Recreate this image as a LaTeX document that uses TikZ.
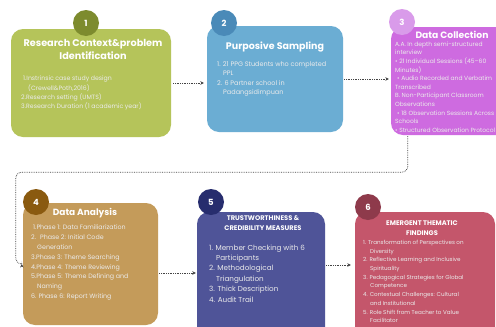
\documentclass[tikz,border=0pt]{standalone}
\usepackage{fontspec}
\setmainfont{Poppins}
\usetikzlibrary{arrows.meta}
\definecolor{boxA}{HTML}{B5C45A}\definecolor{numA}{HTML}{7D8B2E}
\definecolor{boxB}{HTML}{6BADD3}\definecolor{numB}{HTML}{4A8AB8}
\definecolor{boxC}{HTML}{CE6BE0}\definecolor{numC}{HTML}{D99BEA}
\definecolor{boxD}{HTML}{C49B5A}\definecolor{numD}{HTML}{8A5A10}
\definecolor{boxE}{HTML}{4F5498}\definecolor{numE}{HTML}{272D6E}
\definecolor{boxF}{HTML}{C4566B}\definecolor{numF}{HTML}{8E3A4B}
\definecolor{connc}{HTML}{444444}
\tikzset{
  panel/.style={rounded corners=12pt, inner sep=0pt, draw=none},
  numc/.style={circle, minimum size=26pt, inner sep=0pt, text=white, font=\bfseries\fontsize{8.5}{8.5}\selectfont},
  ttl/.style={text=white, align=center, inner sep=0pt},
  lst/.style={anchor=north west, align=left, inner sep=0pt, text=white!92!black},
  conn/.style={densely dotted, line width=0.75pt, draw=connc, -{Stealth[length=3.5pt,width=3.5pt]}, rounded corners=6pt}
}
\begin{document}
\begin{tikzpicture}[x=1pt,y=-1pt]
\useasboundingbox (0,0) rectangle (496,327);
\fill[white] (0,0) rectangle (496,327);
% boxes
\node[panel, fill=boxA, minimum width=160pt, minimum height=108pt] (b1) at (91,83) {};
\node[panel, fill=boxB, minimum width=136pt, minimum height=106pt] (b2) at (275,79) {};
\node[panel, fill=boxC, minimum width=130pt, minimum height=108pt] (b3) at (456,81) {};
\node[panel, fill=boxD, minimum width=135pt, minimum height=122pt] (b4) at (90.5,264) {};
\node[panel, fill=boxE, minimum width=128pt, minimum height=128pt] (b5) at (261,276) {};
\node[panel, fill=boxF, minimum width=140pt, minimum height=128pt] (b6) at (425,276) {};
% number circles
\node[numc, fill=numA] (n1) at (86,23) {1};
\node[numc, fill=numB] (n2) at (224,23) {2};
\node[numc, fill=numC] (n3) at (402,22) {3};
\node[numc, fill=numD] (n4) at (36,202) {4};
\node[numc, fill=numE] (n5) at (211,202) {5};
\node[numc, fill=numF] (n6) at (368,207) {6};
% titles
\node[ttl, font=\bfseries\fontsize{9.7}{13}\selectfont] (t1) at (93,49.5) {Research Context\&problem\\Identification};
\node[ttl, font=\bfseries\fontsize{9.5}{12}\selectfont] (t2) at (275,47) {Purposive Sampling};
\node[ttl, font=\bfseries\fontsize{9.2}{12}\selectfont] (t3) at (452,35) {Data Collection};
\node[ttl, font=\bfseries\fontsize{9}{12}\selectfont] (t4) at (85,213) {Data Analysis};
\node[ttl, font=\bfseries\fontsize{6.7}{10}\selectfont] (t5) at (263,223) {TRUSTWORTHINESS \&\\CREDIBILITY MEASURES};
\node[ttl, font=\bfseries\fontsize{6.7}{10}\selectfont] (t6) at (422,228) {EMERGENT THEMATIC\\FINDINGS};
% lists
\node[lst, font=\fontsize{6.2}{9.3}\selectfont] (l1) at (21,76) {\hspace{2pt}1.Instrinsic case study design\\\hspace{7pt}(Crewell\&Poth,2016)\\2.Research setting (UMTS)\\3.Research Duration (1 academic year)};
\node[lst, font=\fontsize{6.5}{9.6}\selectfont] (l2) at (217,61) {1. 21 PPG Students who completed\\\hspace{6pt}PPL\\2. 6 Partner school in\\\hspace{6pt}Padangsidimpuan};
\node[lst, font=\fontsize{6}{8.6}\selectfont] (l3) at (395,41.5) {A.A. In depth semi-structured\\interview\\• 21 Individual Sessions (45–60\\Minutes)\\\hspace{2pt}• Audio Recorded and Verbatim\\Transcribed\\B. Non-Participant Classroom\\Observations\\\hspace{2pt}• 18 Observation Sessions Across\\Schools\\• Structured Observation Protocol};
\node[lst, font=\fontsize{6.3}{9.8}\selectfont] (l4) at (31,225) {\hspace{2pt}1.Phase 1: Data Familiarization\\2.\hspace{4pt}Phase 2: Initial Code\\\hspace{6pt}Generation\\3.Phase 3: Theme Searching\\4.Phase 4: Theme Reviewing\\5.Phase 5: Theme Defining and\\\hspace{6pt}Naming\\6.\hspace{2pt}Phase 6: Report Writing};
\node[lst, font=\fontsize{7.2}{10.4}\selectfont] (l5) at (209,244.5) {1. Member Checking with 6\\\hspace{7pt}Participants\\2. Methodological\\\hspace{7pt}Triangulation\\3. Thick Description\\4. Audit Trail};
\node[lst, font=\fontsize{5.6}{8.7}\selectfont] (l6) at (363,240) {1. Transformation of Perspectives on\\\hspace{7pt}Diversity\\2. Reflective Learning and Inclusive\\\hspace{7pt}Spirituality\\3. Pedagogical Strategies for Global\\\hspace{7pt}Competence\\4. Contextual Challenges: Cultural\\\hspace{7pt}and Institutional\\5. Role Shift from Teacher to Value\\\hspace{7pt}Facilitator};
% connectors
\draw[conn] ([xshift=2pt]b1.east) -- ([xshift=-3pt]b2.west |- b1.east);
\draw[conn] ([xshift=1pt]b2.east) -- ([xshift=-2pt]b3.west |- b2.east);
\draw[conn] ([xshift=17pt,yshift=-1pt]b3.south west) -- ++(0,36) -| ([xshift=-7pt]b4.west) -- ([xshift=-1pt]b4.west);
\draw[conn] ([xshift=1pt,yshift=-9pt]b4.east) -- ([xshift=-1pt,yshift=-9pt]b4.east -| b5.west);
\draw[conn] ([xshift=1pt,yshift=11pt]b5.east) -- ([xshift=-4pt,yshift=11pt]b6.west);
\end{tikzpicture}
\end{document}
